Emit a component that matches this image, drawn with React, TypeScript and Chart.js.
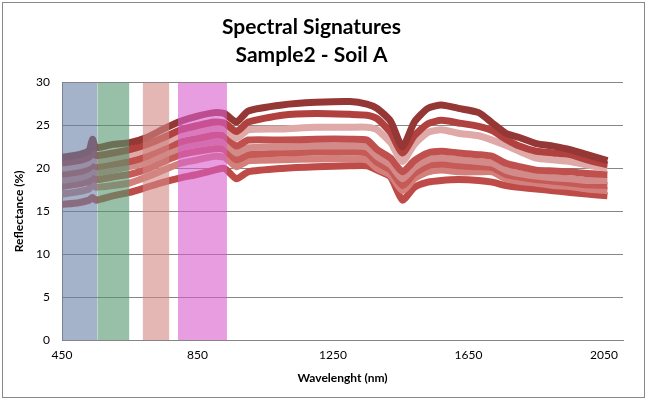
import React, { useEffect, useRef } from 'react';
import { Chart, registerables } from 'chart.js';
Chart.register(...registerables);

const wavelengths = [450, 500, 530, 540, 550, 600, 650, 700, 750, 800, 850, 900, 930, 965, 1000, 1100, 1200, 1300, 1350, 1380, 1420, 1455, 1490, 1530, 1570, 1620, 1680, 1720, 1760, 1800, 1850, 1900, 1950, 2000, 2060];

const seriesA = [21.3, 21.6, 22.1, 23.4, 22.4, 22.8, 23.0, 23.6, 24.6, 25.5, 26.1, 26.5, 26.4, 25.4, 26.7, 27.4, 27.7, 27.8, 27.5, 27.0, 25.5, 22.5, 25.4, 27.0, 27.4, 27.0, 26.5, 25.3, 24.1, 23.6, 22.9, 22.6, 22.2, 21.6, 20.9];
const seriesB = [20.6, 20.9, 21.3, 22.0, 21.5, 21.8, 22.2, 22.8, 23.6, 24.5, 25.0, 25.4, 25.3, 24.3, 25.4, 26.2, 26.4, 26.3, 26.2, 25.8, 24.2, 21.8, 23.8, 25.2, 25.6, 25.3, 24.9, 24.4, 23.4, 22.6, 22.0, 21.8, 21.6, 21.0, 20.4];
const seriesC = [20.0, 20.3, 20.7, 21.4, 20.9, 21.2, 21.6, 22.2, 23.0, 23.9, 24.3, 24.7, 24.6, 23.5, 24.5, 24.6, 24.8, 24.8, 24.8, 24.5, 23.0, 20.8, 22.8, 24.2, 24.5, 24.1, 23.8, 23.3, 22.7, 22.0, 21.2, 21.0, 20.8, 20.4, 20.0];
const seriesD = [19.3, 19.6, 20.0, 20.6, 20.2, 20.5, 20.8, 21.4, 22.3, 23.1, 23.5, 23.9, 23.8, 22.6, 23.3, 23.3, 23.4, 23.4, 23.3, 22.2, 21.2, 19.6, 20.9, 21.8, 22.0, 21.8, 21.6, 21.4, 20.6, 20.2, 19.8, 19.7, 19.6, 19.4, 19.3];
const seriesE = [18.6, 18.9, 19.3, 19.9, 19.5, 19.8, 20.2, 20.7, 21.6, 22.4, 22.8, 23.1, 23.0, 21.8, 22.4, 22.5, 22.6, 22.6, 22.5, 21.4, 20.4, 18.8, 20.1, 21.0, 21.2, 21.0, 20.8, 20.6, 19.8, 19.4, 19.1, 18.9, 18.8, 18.6, 18.6];
const seriesF = [17.9, 18.2, 18.5, 19.1, 18.7, 19.0, 19.3, 19.9, 20.8, 21.6, 22.0, 22.3, 22.2, 21.0, 21.6, 21.8, 21.9, 21.9, 21.8, 20.7, 19.8, 18.0, 19.4, 20.3, 20.5, 20.3, 20.2, 20.1, 19.3, 19.0, 18.7, 18.5, 18.3, 18.1, 18.0];
const seriesG = [17.0, 17.3, 17.6, 18.2, 17.8, 18.0, 18.3, 19.0, 19.8, 20.6, 21.0, 21.4, 21.3, 20.2, 20.9, 21.0, 21.1, 21.1, 21.0, 20.0, 19.2, 17.4, 18.8, 19.6, 19.8, 19.6, 19.6, 19.6, 18.8, 18.5, 18.3, 18.0, 17.9, 17.6, 17.4];
const seriesH = [15.8, 16.0, 16.3, 16.6, 16.3, 16.8, 17.2, 17.8, 18.4, 18.9, 19.3, 19.8, 20.0, 18.8, 19.6, 20.0, 20.2, 20.3, 20.3, 19.8, 19.0, 16.3, 17.8, 18.4, 18.6, 18.7, 18.6, 18.4, 18.0, 17.8, 17.6, 17.4, 17.2, 17.0, 16.8];

const seriesValues = [seriesA, seriesB, seriesC, seriesD, seriesE, seriesF, seriesG, seriesH];
const seriesColors = ['#953735', '#B0413E', '#DFA9A8', '#C0504D', '#D28B89', '#C55A57', '#D3807D', '#BE4B48'];

// spectral band ranges (nm) and their heights
const bandBlue = [450, 554];
const bandGreen = [554, 649];
const bandRed = [688, 767];
const bandNir = [792, 937];
const bandTops = [30, 30.15, 30.15, 30];
const bandColors = ['rgba(103,128,167,0.6)', 'rgba(83,150,110,0.6)', 'rgba(210,135,132,0.6)', 'rgba(215,92,203,0.6)'];

const xTickValues = [450, 850, 1250, 1650, 2050];
const titleLines = ['Spectral Signatures', 'Sample2 - Soil A'];

export default function App() {
  const ref = useRef<HTMLCanvasElement>(null);
  useEffect(() => {
    if (!ref.current) return;
    const bands = [bandBlue, bandGreen, bandRed, bandNir].map((r, i) => ({
      type: 'line' as const,
      label: 'band' + i,
      data: [{ x: r[0], y: bandTops[i] }, { x: r[1], y: bandTops[i] }],
      fill: 'origin',
      backgroundColor: bandColors[i],
      borderWidth: 0,
      pointRadius: 0,
      clip: { left: 0, top: 3, right: 0, bottom: 0 },
    }));
    const lines = seriesValues.map((vals, i) => ({
      type: 'line' as const,
      label: 'S' + (i + 1),
      data: wavelengths.map((x, j) => ({ x, y: vals[j] })),
      borderColor: seriesColors[i],
      backgroundColor: seriesColors[i],
      borderWidth: 7,
      pointRadius: 0,
      tension: 0.2,
      fill: false,
    }));
    const chart = new Chart(ref.current, {
      type: 'line',
      data: { datasets: [...bands, ...lines] as any },
      options: {
        responsive: false,
        animation: false,
        layout: { padding: { left: 0, right: 27, top: 0, bottom: 0 } },
        plugins: {
          legend: { display: false },
          tooltip: { enabled: false },
          title: {
            display: true,
            text: titleLines,
            color: '#000',
            font: { family: 'Lato', size: 21, weight: 'bold', lineHeight: 1.3 },
            padding: { top: 14, bottom: 14 },
          },
        },
        scales: {
          x: {
            type: 'linear',
            min: 450,
            max: 2106,
            afterBuildTicks: (s: any) => { s.ticks = xTickValues.map((v) => ({ value: v })); },
            afterFit: (s: any) => { s.height = 63; },
            ticks: {
              color: '#000',
              font: { family: 'Lato', size: 12 },
              padding: 8,
              maxRotation: 0,
              callback: (v: any) => String(v),
            },
            grid: { display: false, drawTicks: false },
            border: { display: true, color: '#868686', width: 1 },
            title: {
              display: true,
              text: 'Wavelenght (nm)',
              color: '#000',
              font: { family: 'Lato', size: 12, weight: 'bold', lineHeight: 1.2 },
              padding: { top: 0, bottom: 18 },
            },
          },
          y: {
            min: 0,
            max: 30,
            afterFit: (s: any) => { s.width = 62; },
            ticks: {
              stepSize: 5,
              color: '#000',
              font: { family: 'Lato', size: 12 },
              padding: 12,
            },
            grid: { color: '#868686', drawTicks: false, lineWidth: 1 },
            border: { display: true, color: '#868686', width: 1 },
            title: {
              display: true,
              text: 'Reflectance (%)',
              color: '#000',
              font: { family: 'Lato', size: 12, weight: 'bold', lineHeight: 1.2 },
              padding: { top: 12, bottom: 0 },
            },
          },
        },
      },
    });
    return () => chart.destroy();
  }, []);
  return (
    <div style={{ position: 'fixed', left: 0, top: 0, width: 650, height: 403, background: '#fff' }}>
      <canvas ref={ref} width={650} height={403} style={{ position: 'absolute', left: 0, top: 0 }} />
      <div style={{ position: 'absolute', left: 2, top: 2, width: 643, height: 396, border: '1px solid #888', boxSizing: 'border-box', pointerEvents: 'none' }} />
    </div>
  );
}
